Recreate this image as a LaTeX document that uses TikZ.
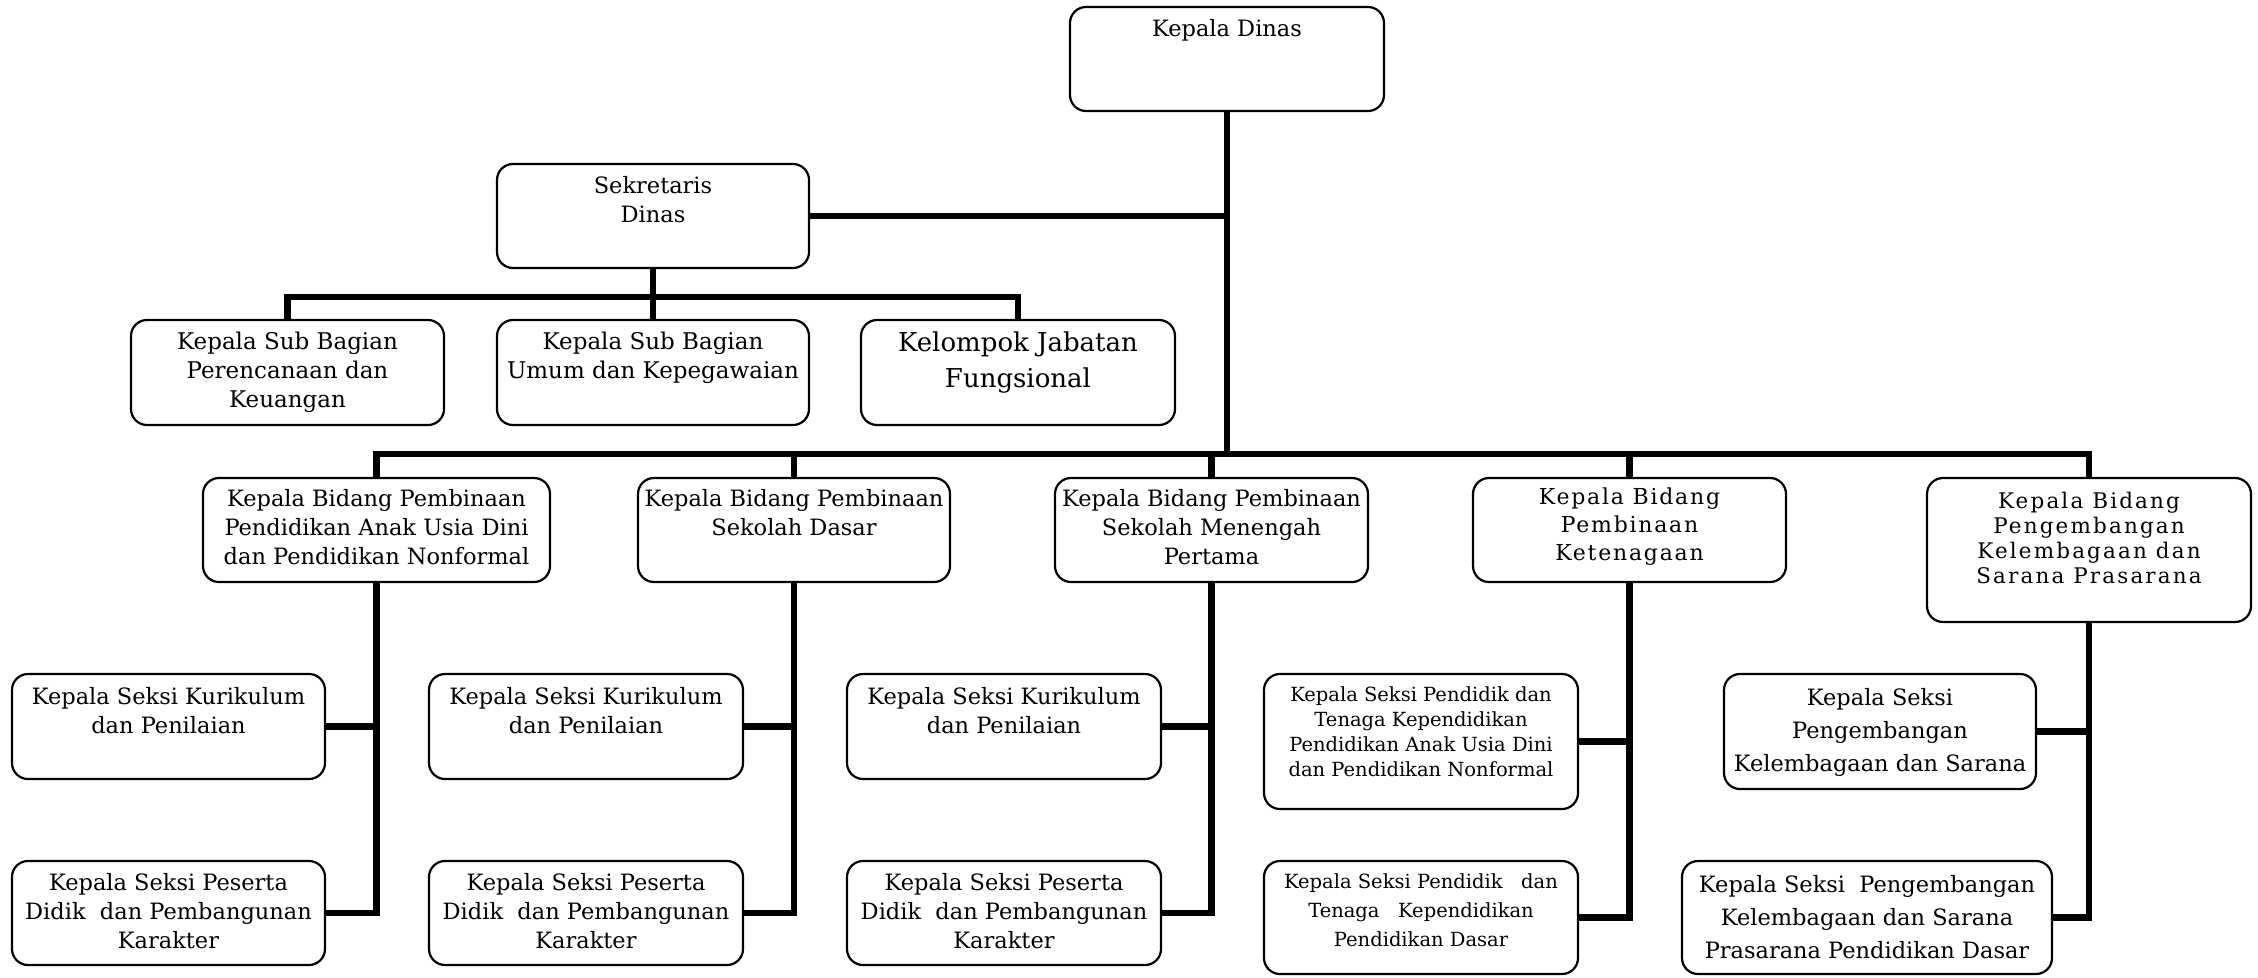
\documentclass[tikz,border=0pt]{standalone}
\usepackage{fontspec}
\setmainfont{DejaVu Serif}
\pgfdeclarelayer{lines}
\pgfsetlayers{lines,main}
\newcommand{\tb}[4]{\parbox[c][#2pt][t]{#1pt}{\centering\vspace*{#3pt}#4\par}}
\tikzset{
  orgbox/.style={draw, line width=2.2pt, rounded corners=16pt, inner sep=0pt, fill=white},
  conn/.style={line width=6.5pt, line cap=rect},
  fnorm/.style={font=\fontsize{22.5}{29}\selectfont},
  fsub/.style={font=\fontsize{23}{29}\selectfont},
  fbig/.style={font=\fontsize{26}{36}\selectfont},
  fsmall/.style={font=\fontsize{19.5}{25}\selectfont},
  fsmallw/.style={font=\fontsize{19.5}{29}\selectfont},
  fmid/.style={font=\fontsize{22.5}{33}\selectfont},
  fwide/.style={font=\fontsize{22}{28}\selectfont\addfontfeature{LetterSpace=8}},
  fwidesm/.style={font=\fontsize{21.5}{25}\selectfont\addfontfeature{LetterSpace=10}},
}
\begin{document}
\begin{tikzpicture}[x=1pt,y=-1pt]
\useasboundingbox (0,0) rectangle (2258,977);
\coordinate (busy) at (0,454);
\coordinate (subbusy) at (0,297);

% top level
\node[orgbox,fnorm] (kd) at (1227,59) {\tb{314}{104}{12}{Kepala Dinas}};
\node[orgbox,fnorm] (sek) at (653,216) {\tb{312}{104}{12}{Sekretaris\\Dinas}};

% secretariat units
\node[orgbox,fsub] (sub1) at (287.5,372.5) {\tb{313}{105}{12}{Kepala Sub Bagian\\Perencanaan dan\\Keuangan}};
\node[orgbox,fsub] (sub2) at (653,372.5) {\tb{312}{105}{12}{Kepala Sub Bagian\\Umum dan Kepegawaian}};
\node[orgbox,fbig] (sub3) at (1018,372.5) {\tb{314}{105}{12}{Kelompok Jabatan\\Fungsional}};

% divisions
\node[orgbox,fnorm] (b1) at (376.5,530) {\tb{347}{104}{11}{Kepala Bidang Pembinaan\\Pendidikan Anak Usia Dini\\dan Pendidikan Nonformal}};
\node[orgbox,fnorm] (b2) at (794,530) {\tb{312}{104}{11}{Kepala Bidang Pembinaan\\Sekolah Dasar}};
\node[orgbox,fnorm] (b3) at (1211.5,530) {\tb{313}{104}{11}{Kepala Bidang Pembinaan\\Sekolah Menengah\\Pertama}};
\node[orgbox,fwide] (b4) at (1629.5,530) {\tb{313}{104}{10}{Kepala Bidang\\Pembinaan\\Ketenagaan}};
\node[orgbox,fwidesm] (b5) at (2089,550) {\tb{324}{144}{14}{Kepala Bidang\\Pengembangan\\Kelembagaan dan\\Sarana Prasarana}};

% sections
\node[orgbox,fnorm] (s1a) at (168.5,726.5) {\tb{313}{105}{13}{Kepala Seksi Kurikulum\\dan Penilaian}};
\node[orgbox,fnorm] (s1b) at (168.5,913) {\tb{313}{104}{12}{Kepala Seksi Peserta\\Didik~ dan Pembangunan\\Karakter}};
\node[orgbox,fnorm] (s2a) at (586,726.5) {\tb{314}{105}{13}{Kepala Seksi Kurikulum\\dan Penilaian}};
\node[orgbox,fnorm] (s2b) at (586,913) {\tb{314}{104}{12}{Kepala Seksi Peserta\\Didik~ dan Pembangunan\\Karakter}};
\node[orgbox,fnorm] (s3a) at (1004,726.5) {\tb{314}{105}{13}{Kepala Seksi Kurikulum\\dan Penilaian}};
\node[orgbox,fnorm] (s3b) at (1004,913) {\tb{314}{104}{12}{Kepala Seksi Peserta\\Didik~ dan Pembangunan\\Karakter}};
\node[orgbox,fsmall] (s4a) at (1421,741.5) {\tb{314}{135}{13}{Kepala Seksi Pendidik dan\\Tenaga Kependidikan\\Pendidikan Anak Usia Dini\\dan Pendidikan Nonformal}};
\node[orgbox,fsmallw] (s4b) at (1421,917.5) {\tb{314}{113}{13}{Kepala Seksi Pendidik~~~dan\\Tenaga~~~Kependidikan\\Pendidikan Dasar}};
\node[orgbox,fmid] (s5a) at (1880,731.5) {\tb{312}{115}{14}{Kepala Seksi\\Pengembangan\\Kelembagaan dan Sarana}};
\node[orgbox,fmid] (s5b) at (1867,917.5) {\tb{370}{113}{14}{Kepala Seksi~ Pengembangan\\Kelembagaan dan Sarana\\Prasarana Pendidikan Dasar}};

\begin{pgfonlayer}{lines}
% head to division bus
\draw[conn] (kd.south) -- (kd.south |- busy);
\draw[conn] (b1.north) |- (b5.north |- busy) -- (b5.north);
\draw[conn] (b2.north) -- (b2.north |- busy);
\draw[conn] (b3.north) -- (b3.north |- busy);
\draw[conn] (b4.north) -- (b4.north |- busy);

% secretary
\draw[conn] (sek.east) -- (sek.east -| kd.south);
\draw[conn] (sek.south) -- (sek.south |- subbusy);
\draw[conn] (sub1.north) |- (sub3.north |- subbusy) -- (sub3.north);
\draw[conn] (sub2.north) -- (sub2.north |- subbusy);

% division to sections
\foreach \b/\a/\c in {b1/s1a/s1b, b2/s2a/s2b, b3/s3a/s3b, b4/s4a/s4b, b5/s5a/s5b}{
  \draw[conn] (\b.south) |- (\c.east);
  \draw[conn] (\a.east) -- (\a.east -| \b.south);
}
\end{pgfonlayer}
\end{tikzpicture}
\end{document}
